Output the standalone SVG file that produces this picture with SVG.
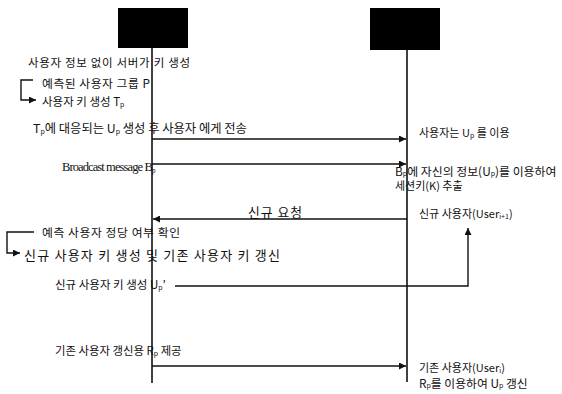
<svg xmlns="http://www.w3.org/2000/svg" width="562" height="394" viewBox="0 0 562 394">
<style>
.t{font-family:"Noto Sans CJK KR","Liberation Sans",sans-serif;font-size:11px;fill:#111;dominant-baseline:central}
.s{font-size:7px}
.ser{font-family:"Liberation Serif",serif;font-size:12.5px;fill:#111;dominant-baseline:central;letter-spacing:-0.9px}
.ln{stroke:#111;stroke-width:1.4;fill:none}
.ll{stroke:#111;stroke-width:1.6;fill:none}
</style>
<defs>
<marker id="ah" viewBox="0 0 10 10" refX="10" refY="5" markerWidth="7" markerHeight="7" markerUnits="userSpaceOnUse" orient="auto">
<path d="M0,0 L10,5 L0,10 Z" fill="#111"/>
</marker>
</defs>
<rect width="562" height="394" fill="#fff"/>
<g id="server">
<rect x="118" y="8" width="70" height="40" fill="#000"/>
<line class="ll" x1="152" y1="48" x2="152" y2="383"/>
</g>
<g id="user">
<rect x="370" y="8" width="70" height="42" fill="#000"/>
<line class="ll" x1="407" y1="50" x2="407" y2="382"/>
</g>
<g id="connectors">
<line class="ln" x1="152" y1="139" x2="406" y2="139" marker-end="url(#ah)"/>
<line class="ln" x1="152" y1="164" x2="406" y2="164" marker-end="url(#ah)"/>
<line class="ln" x1="407" y1="219" x2="153" y2="219" marker-end="url(#ah)"/>
<polyline class="ln" points="175,286 468,286 468,228" marker-end="url(#ah)"/>
<line class="ln" x1="152" y1="366" x2="406" y2="366" marker-end="url(#ah)"/>
<polyline class="ln" points="33,80 21,80 21,100 36,100" marker-end="url(#ah)"/>
<polyline class="ln" points="34,232 7,232 7,253 20,253" marker-end="url(#ah)"/>
</g>
<g id="labels">
<text class="t" x="28" y="62" style="font-size:11.5px" textLength="162" lengthAdjust="spacing">사용자 정보 없이 서버가 키 생성</text>
<text class="t" x="42" y="82" style="font-size:11.8px" textLength="108" lengthAdjust="spacing">예측된 사용자 그룹 P</text>
<text class="t" x="42" y="101" style="font-size:11.5px">사용자 키 생성 T<tspan class="s" dy="3">p</tspan></text>
<text class="t" x="33" y="128" style="font-size:12.3px">T<tspan class="s" dy="3">p</tspan><tspan dy="-3">에 대응되는 U</tspan><tspan class="s" dy="3">p</tspan><tspan dy="-3"> 생성 후 사용자 에게 전송</tspan></text>
<text class="t" x="419" y="132">사용자는 U<tspan class="s" dy="3">p</tspan><tspan dy="-3"> 를 이용</tspan></text>
<text class="ser" x="62" y="167">Broadcast message B<tspan font-size="7.5" dy="3">p</tspan></text>
<text class="t" x="395" y="170" style="font-size:11.9px">B<tspan class="s" dy="3">p</tspan><tspan dy="-3">에 자신의 정보(U</tspan><tspan class="s" dy="3">p</tspan><tspan dy="-3">)를 이용하여</tspan></text>
<text class="t" x="395" y="185">세션키(K) 추출</text>
<text class="t" x="248" y="211" style="font-size:12.8px" textLength="54" lengthAdjust="spacing">신규 요청</text>
<text class="t" x="419" y="213">신규 사용자(User<tspan class="s" dy="3">i+1</tspan><tspan dy="-3">)</tspan></text>
<text class="t" x="42" y="231" style="font-size:11.8px" textLength="138" lengthAdjust="spacing">예측 사용자 정당 여부 확인</text>
<text class="t" x="24" y="254" style="font-size:13px" textLength="256" lengthAdjust="spacing">신규 사용자 키 생성 및 기존 사용자 키 갱신</text>
<text class="t" x="55" y="284" style="font-size:11.5px">신규 사용자 키 생성 U<tspan class="s" dy="3">p</tspan><tspan dy="-3">’</tspan></text>
<text class="t" x="55" y="350" style="font-size:11.4px">기존 사용자 갱신용 R<tspan class="s" dy="3">p</tspan><tspan dy="-3"> 제공</tspan></text>
<text class="t" x="419" y="367">기존 사용자(User<tspan class="s" dy="3">i</tspan><tspan dy="-3">)</tspan></text>
<text class="t" x="419" y="382" style="font-size:11.8px">R<tspan class="s" dy="3">p</tspan><tspan dy="-3">를 이용하여 U</tspan><tspan class="s" dy="3">p</tspan><tspan dy="-3"> 갱신</tspan></text>
</g>
</svg>
